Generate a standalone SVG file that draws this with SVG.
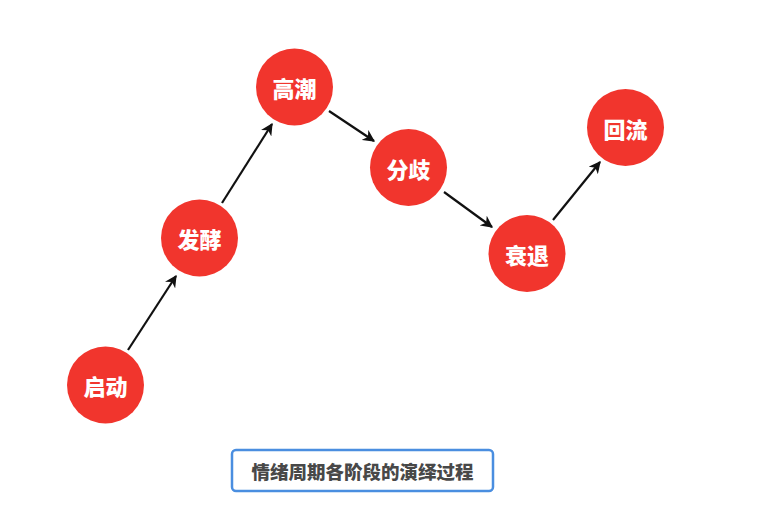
<svg xmlns="http://www.w3.org/2000/svg" width="760" height="505" viewBox="0 0 760 505">
<style>
.node circle{fill:#f1352d}
.node text{fill:#fff;font-family:"Noto Sans CJK SC","Noto Sans",sans-serif;font-weight:900;font-size:22px;text-anchor:middle;dominant-baseline:central}
.edge{stroke:#111;stroke-width:2.2;fill:none;marker-end:url(#arr)}
.cap{fill:#fff;stroke:#4a8ee0;stroke-width:2.5}
.captext{fill:#484848;font-family:"Noto Sans CJK SC","Noto Sans",sans-serif;font-weight:900;font-size:18.5px;text-anchor:middle;dominant-baseline:central}
</style>
<defs>
<marker id="arr" viewBox="0 0 10 10" refX="9" refY="5" markerWidth="5.5" markerHeight="5.5" orient="auto" markerUnits="strokeWidth">
<path d="M0,0 L10,5 L0,10 L3,5 Z" fill="#111"/>
</marker>
</defs>
<rect width="760" height="505" fill="#fff"/>
<g id="connectors">
<line class="edge" x1="128" y1="350" x2="176" y2="276"/>
<line class="edge" x1="222" y1="203" x2="272" y2="124"/>
<line class="edge" x1="329" y1="111" x2="374" y2="141"/>
<line class="edge" x1="444" y1="192" x2="492" y2="227"/>
<line class="edge" x1="553" y1="220" x2="600" y2="162"/>
</g>
<g id="n1" class="node"><circle cx="105.5" cy="385" r="38.5"/><text x="105.5" y="385">启动</text></g>
<g id="n2" class="node"><circle cx="199.5" cy="238" r="38.5"/><text x="199.5" y="238">发酵</text></g>
<g id="n3" class="node"><circle cx="294.5" cy="87" r="38.5"/><text x="294.5" y="87">高潮</text></g>
<g id="n4" class="node"><circle cx="408.5" cy="167.5" r="38.5"/><text x="408.5" y="167.5">分歧</text></g>
<g id="n5" class="node"><circle cx="527" cy="253.5" r="38.5"/><text x="527" y="253.5">衰退</text></g>
<g id="n6" class="node"><circle cx="625.5" cy="127.5" r="38.5"/><text x="625.5" y="127.5">回流</text></g>
<g id="caption">
<rect class="cap" x="232" y="450" width="261" height="41" rx="4"/>
<text class="captext" x="362.5" y="470.5">情绪周期各阶段的演绎过程</text>
</g>
</svg>
